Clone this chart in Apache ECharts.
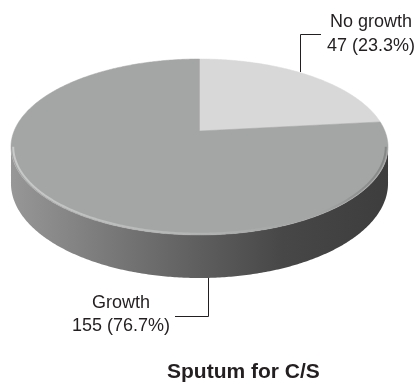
<!DOCTYPE html>
<html><head><meta charset="utf-8">
<script src="https://cdn.jsdelivr.net/npm/echarts@6/dist/echarts.min.js"></script>
<style>html,body{margin:0;padding:0;background:#fff}#main{width:419px;height:385px}</style>
</head><body><div id="main"></div>
<script>
// ---- data ----
var categories = ['No growth', 'Growth'];
var counts = [47, 155];
var chartTitle = 'Sputum for C/S';

// ---- layout / style ----
var total = counts.reduce(function (a, b) { return a + b; }, 0);
var P = { cx: 199.5, vy: 131, A: 1019.6, B: 468, z0: 5.5, H: 193.5 };
var topColors = ['#d8d8d8', '#a4a5a5'];
var textColor = '#231f20';
var labelFont = '18px "Liberation Sans", Arial, sans-serif';
var labelLayout = [
  { anchor: [300.5, 72], elbow: [300.5, 34.5], end: [321, 34.5], tx: 371, ty: [22, 46] },
  { anchor: [208.5, 278], elbow: [208.5, 316.5], end: [175, 316.5], tx: 121, ty: [303, 326] }
];

function proj(t, h) {
  var u = Math.sin(t), v = Math.cos(t), z = P.z0 + v;
  return [P.cx + u * P.A / z, P.vy - v * P.B / z + h * P.H / z];
}
function arcPts(a, b, h, scale) {
  var pts = [], n = Math.max(2, Math.ceil(Math.abs(b - a) / 0.01));
  for (var i = 0; i <= n; i++) {
    var t = a + (b - a) * i / n;
    var p = proj(t, h);
    if (scale) {
      p = [P.cx + (p[0] - P.cx) * scale, P.vy + (p[1] - P.vy) * scale];
    }
    pts.push(p);
  }
  return pts;
}
var startAngles = [];
(function () { var acc = 0; counts.forEach(function (c) { startAngles.push(acc); acc += c / total * Math.PI * 2; }); })();
var tR = Math.acos(-1 / P.z0), tL = Math.PI * 2 - tR;

var wallGrad = new echarts.graphic.LinearGradient(11, 0, 389, 0, [
  { offset: 0, color: '#979797' },
  { offset: 0.25, color: '#7a7a7a' },
  { offset: 0.5, color: '#5e5e5e' },
  { offset: 0.72, color: '#474747' },
  { offset: 1, color: '#3d3d3d' }
], true);
var rimGrad = new echarts.graphic.LinearGradient(11, 0, 389, 0, [
  { offset: 0, color: 'rgba(255,255,255,0.4)' },
  { offset: 0.45, color: 'rgba(255,255,255,0.18)' },
  { offset: 0.75, color: 'rgba(255,255,255,0.0)' },
  { offset: 0.9, color: 'rgba(0,0,0,0.1)' },
  { offset: 1, color: 'rgba(0,0,0,0.2)' }
], true);

function renderItem(params, api) {
  var i = params.dataIndex;
  var val = api.value(0);
  var a = startAngles[i], b = a + val / total * Math.PI * 2;
  var children = [];
  var wa = Math.max(a, tR), wb = Math.min(b, tL);
  if (wb > wa) {
    var pts = arcPts(wa, wb, 0).concat(arcPts(wb, wa, 1));
    children.push({ type: 'polygon', shape: { points: pts }, style: { fill: wallGrad } });
  }
  var topPts = [[P.cx, P.vy]].concat(arcPts(a, b, 0));
  children.push({ type: 'polygon', shape: { points: topPts }, style: { fill: topColors[i], stroke: topColors[i], lineWidth: 0.5 } });
  if (wb > wa) {
    children.push({ type: 'polyline', shape: { points: arcPts(wa, wb, 0, 0.988) }, style: { stroke: rimGrad, lineWidth: 2, fill: null } });
  }
  var L = labelLayout[i];
  children.push({ type: 'polyline', shape: { points: [L.anchor, L.elbow, L.end] }, style: { stroke: textColor, lineWidth: 1, fill: null } });
  var pct = (counts[i] / total * 100).toFixed(1);
  children.push({ type: 'text', style: { text: categories[i], x: L.tx, y: L.ty[0], align: 'center', verticalAlign: 'middle', font: labelFont, fill: textColor } });
  children.push({ type: 'text', style: { text: counts[i] + ' (' + pct + '%)', x: L.tx, y: L.ty[1], align: 'center', verticalAlign: 'middle', font: labelFont, fill: textColor } });
  return { type: 'group', children: children };
}

var chart = echarts.init(document.getElementById('main'), null, { renderer: 'canvas' });
chart.setOption({
  animation: false,
  backgroundColor: '#ffffff',
  title: {
    text: chartTitle, left: 167, top: 362, padding: 0,
    textStyle: { fontFamily: '"Liberation Sans", Arial, sans-serif', fontWeight: 'bold', fontSize: 21, color: textColor }
  },
  series: [{
    type: 'custom',
    coordinateSystem: 'none',
    renderItem: renderItem,
    data: counts.map(function (c, i) { return { name: categories[i], value: [c] }; })
  }]
});
</script></body></html>
